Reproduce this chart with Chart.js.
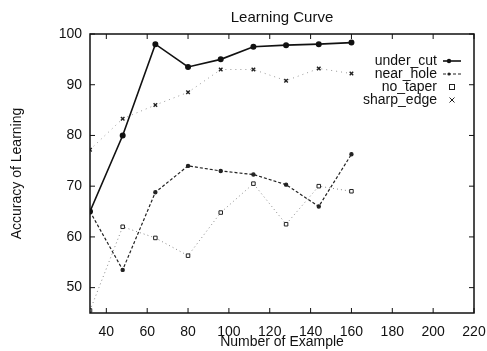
<!DOCTYPE html>
<html>
<head>
<meta charset="utf-8">
<script src="https://cdn.jsdelivr.net/npm/chart.js@4/dist/chart.umd.min.js"></script>
<style>
  html, body { margin: 0; padding: 0; background: #fff; }
  #wrap { width: 487px; height: 351px; }
</style>
</head>
<body>
<div id="wrap"><canvas id="chart"></canvas></div>
<script>
  const examples = [32, 48, 64, 80, 96, 112, 128, 144, 160];
  const underCut = [65, 80, 98, 93.5, 95, 97.5, 97.8, 98, 98.3];
  const nearHole = [65, 53.5, 68.8, 74, 73, 72.3, 70.3, 66, 76.3];
  const noTaper = [45.5, 62, 59.8, 56.3, 64.8, 70.5, 62.5, 70, 69];
  const sharpEdge = [77.2, 83.3, 86, 88.5, 93, 93, 90.8, 93.2, 92.2];
  const xTicks = [40, 60, 80, 100, 120, 140, 160, 180, 200, 220];
  const yTicks = [50, 60, 70, 80, 90, 100];

  const FONT = '"Liberation Sans", Arial, sans-serif';
  const pts = arr => examples.map((x, i) => ({ x, y: arr[i] }));

  // gnuplot-style frame with inward ticks on all four sides, title over plot
  const framePlugin = {
    id: 'frame',
    afterDatasetsDraw(chart) {
      const { ctx, chartArea: a, scales } = chart;
      ctx.save();
      ctx.strokeStyle = '#111';
      ctx.lineWidth = 1.5;
      ctx.strokeRect(a.left, a.top, a.right - a.left, a.bottom - a.top);
      ctx.lineWidth = 1;
      ctx.beginPath();
      xTicks.forEach(v => {
        const px = scales.x.getPixelForValue(v);
        ctx.moveTo(px, a.bottom); ctx.lineTo(px, a.bottom - 5);
        ctx.moveTo(px, a.top); ctx.lineTo(px, a.top + 5);
      });
      yTicks.forEach(v => {
        const py = scales.y.getPixelForValue(v);
        ctx.moveTo(a.left, py); ctx.lineTo(a.left + 5, py);
        ctx.moveTo(a.right, py); ctx.lineTo(a.right - 5, py);
      });
      ctx.stroke();
      ctx.fillStyle = '#111';
      ctx.font = '15px ' + FONT;
      ctx.textAlign = 'center';
      ctx.textBaseline = 'middle';
      ctx.fillText('Learning Curve', (a.left + a.right) / 2, 18);
      ctx.restore();
    }
  };

  // legend inside plot: text right-aligned, sample to the right
  const legendPlugin = {
    id: 'innerLegend',
    afterDatasetsDraw(chart) {
      const { ctx, chartArea: a } = chart;
      const textRight = a.right - 37;
      const x0 = a.right - 31, x1 = a.right - 13;
      ctx.save();
      ctx.font = '14px ' + FONT;
      ctx.textAlign = 'right';
      ctx.textBaseline = 'middle';
      chart.data.datasets.forEach((ds, i) => {
        const y = a.top + 27 + i * 13;
        ctx.fillStyle = '#111';
        ctx.fillText(ds.label, textRight, y);
        const mx = (x0 + x1) / 2;
        if (ds.legendLine) {
          ctx.strokeStyle = ds.borderColor;
          ctx.lineWidth = ds.borderWidth;
          ctx.setLineDash(ds.borderDash || []);
          ctx.beginPath(); ctx.moveTo(x0, y); ctx.lineTo(x1, y); ctx.stroke();
          ctx.setLineDash([]);
        }
        ctx.fillStyle = ds.pointBackgroundColor;
        ctx.strokeStyle = ds.pointBorderColor;
        ctx.lineWidth = 1;
        const r = ds.pointRadius;
        if (ds.pointStyle === 'circle') {
          ctx.beginPath(); ctx.arc(x0 + 6, y, r, 0, Math.PI * 2); ctx.fill();
        } else if (ds.pointStyle === 'rect') {
          ctx.strokeRect(mx - r, y - r, 2 * r, 2 * r);
        } else {
          ctx.beginPath();
          ctx.moveTo(mx - r, y - r); ctx.lineTo(mx + r, y + r);
          ctx.moveTo(mx + r, y - r); ctx.lineTo(mx - r, y + r);
          ctx.stroke();
        }
      });
      ctx.restore();
    }
  };

  new Chart(document.getElementById('chart'), {
    type: 'scatter',
    data: {
      datasets: [
        {
          label: 'under_cut', data: pts(underCut), showLine: true, legendLine: true,
          borderColor: '#111', borderWidth: 1.6,
          pointStyle: 'circle', pointRadius: 2.2,
          pointBackgroundColor: '#111', pointBorderColor: '#111'
        },
        {
          label: 'near_hole', data: pts(nearHole), showLine: true, legendLine: true,
          borderColor: '#222', borderWidth: 1.2, borderDash: [3, 2],
          pointStyle: 'circle', pointRadius: 1.6,
          pointBackgroundColor: '#222', pointBorderColor: '#222'
        },
        {
          label: 'no_taper', data: pts(noTaper), showLine: true,
          borderColor: '#888', borderWidth: 1, borderDash: [1, 3],
          pointStyle: 'rect', pointRadius: 2.5,
          pointBackgroundColor: '#fff', pointBorderColor: '#222'
        },
        {
          label: 'sharp_edge', data: pts(sharpEdge), showLine: true,
          borderColor: '#999', borderWidth: 1, borderDash: [1, 4],
          pointStyle: 'crossRot', pointRadius: 2.5,
          pointBackgroundColor: '#222', pointBorderColor: '#222', pointBorderWidth: 1.4
        }
      ]
    },
    options: {
      responsive: true,
      maintainAspectRatio: false,
      animation: false,
      layout: { padding: { top: 34, right: 13, left: 0, bottom: 0 } },
      plugins: {
        legend: { display: false },
        tooltip: { enabled: false },
        title: { display: false }
      },
      scales: {
        x: {
          type: 'linear', min: 32, max: 220,
          afterBuildTicks: s => { s.ticks = xTicks.map(v => ({ value: v })); },
          afterFit: s => { s.height = 38; s.paddingRight = 0; s.paddingLeft = 0; },
          grid: { display: false, drawTicks: false },
          border: { display: false },
          ticks: { color: '#111', font: { family: FONT, size: 14 }, padding: 11, maxRotation: 0 },
          title: {
            display: true, text: 'Number of Example', color: '#111',
            font: { family: FONT, size: 14 }, padding: { top: 0, bottom: 0 }
          }
        },
        y: {
          min: 45, max: 100,
          afterBuildTicks: s => { s.ticks = yTicks.map(v => ({ value: v })); },
          afterFit: s => { s.width = 90; s.paddingTop = 0; s.paddingBottom = 0; },
          grid: { display: false, drawTicks: false },
          border: { display: false },
          ticks: { color: '#111', font: { family: FONT, size: 14 }, padding: 8 },
          title: {
            display: true, text: 'Accuracy of Learning', color: '#111',
            font: { family: FONT, size: 14 }, padding: { top: 9, bottom: 0 }
          }
        }
      }
    },
    plugins: [framePlugin, legendPlugin]
  });
</script>
</body>
</html>
